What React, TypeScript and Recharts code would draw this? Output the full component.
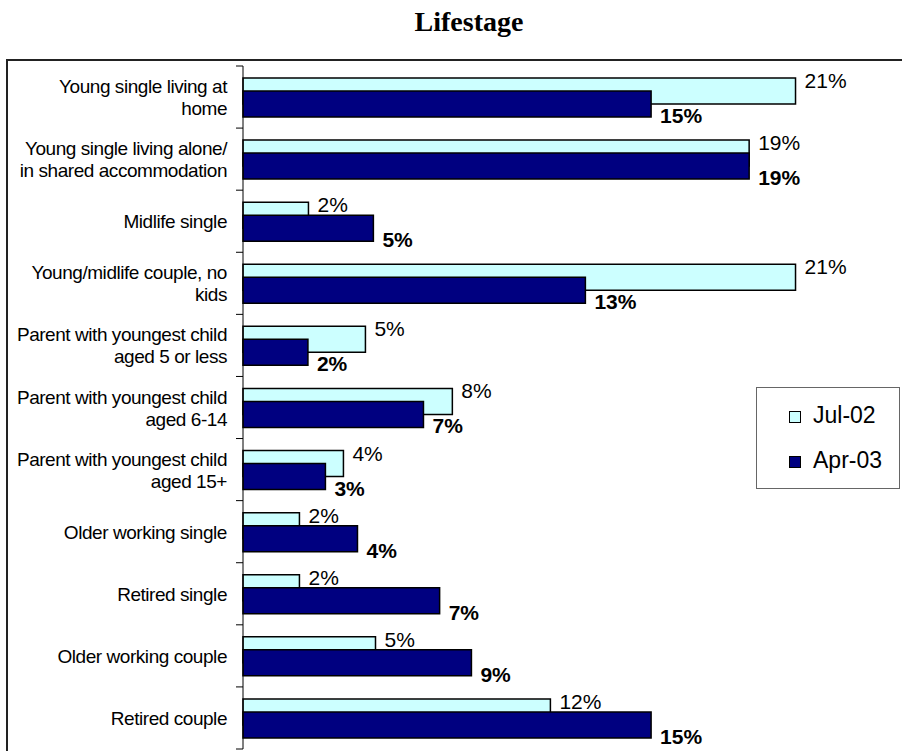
import React from 'react';
import { BarChart, Bar, XAxis, YAxis, LabelList } from 'recharts';

const categories = [
  'Young single living at\nhome',
  'Young single living alone/\nin shared accommodation',
  'Midlife single',
  'Young/midlife couple, no\nkids',
  'Parent with youngest child\naged 5 or less',
  'Parent with youngest child\naged 6-14',
  'Parent with youngest child\naged 15+',
  'Older working single',
  'Retired single',
  'Older working couple',
  'Retired couple',
];
const jul02 = [20.85, 19.1, 2.47, 20.85, 4.62, 7.9, 3.79, 2.13, 2.13, 5.0, 11.6];
const apr03 = [15.4, 19.1, 4.92, 12.92, 2.45, 6.81, 3.11, 4.32, 7.42, 8.62, 15.4];
const seriesNames = ['Jul-02', 'Apr-03'];
const seriesColors = ['#CCFFFF', '#000080'];

const data = categories.map((name, i) => ({ name, jul: jul02[i], apr: apr03[i] }));

const W = 902;
const H = 751;
const TOP = 66;
const BOTTOM = 2;
const AXIS_X = 243;
const BAND = (H - TOP - BOTTOM) / categories.length;
const FONT = '"Liberation Sans", Arial, sans-serif';

const CategoryTick = (props: any) => {
  const { y, payload, index } = props;
  const lines = String(payload.value).split('\n');
  const base = lines.length === 1 ? [y + 7] : [y - 4, y + 18];
  return (
    <g>
      <line x1={AXIS_X - 7} x2={AXIS_X} y1={y - BAND / 2} y2={y - BAND / 2} stroke="#000" />
      {index === categories.length - 1 && (
        <line x1={AXIS_X - 7} x2={AXIS_X} y1={y + BAND / 2} y2={y + BAND / 2} stroke="#000" />
      )}
      <text textAnchor="end" fontSize={19} letterSpacing={-0.45} fill="#000" fontFamily={FONT}>
        {lines.map((l, i) => (
          <tspan key={i} x={227} y={base[i]}>{l}</tspan>
        ))}
      </text>
    </g>
  );
};

const JulLabel = (p: any) => (
  <text x={p.x + p.width + 9} y={p.y + 10} fontSize={21} fill="#000" fontFamily={FONT}>
    {Math.round(p.value)}%
  </text>
);

const AprLabel = (p: any) => (
  <text x={p.x + p.width + 9} y={p.y + p.height + 6} fontSize={21} fontWeight="bold" fill="#000" fontFamily={FONT}>
    {Math.round(p.value)}%
  </text>
);

export default function App() {
  return (
    <div style={{ position: 'absolute', left: 0, top: 0, width: W, height: H, overflow: 'hidden', background: '#fff' }}>
      {/* outer frame, right and bottom edges fall outside the picture */}
      <div style={{ position: 'absolute', left: 6, top: 59, width: 1200, height: 1200, border: '2px solid #222' }} />
      <div style={{ position: 'absolute', left: 369, width: 200, top: 8, textAlign: 'center', fontFamily: '"Liberation Serif", "Times New Roman", serif', fontWeight: 'bold', fontSize: 28, lineHeight: '28px' }}>
        Lifestage
      </div>
      <div style={{ position: 'absolute', left: 0, top: 0 }}>
        <BarChart
          width={W}
          height={H}
          data={data}
          layout="vertical"
          margin={{ top: TOP, right: 23, bottom: BOTTOM, left: 0 }}
          barSize={26}
          barGap={-13}
        >
          <XAxis type="number" domain={[0, 24]} hide />
          <YAxis
            type="category"
            dataKey="name"
            width={AXIS_X}
            interval={0}
            axisLine={{ stroke: '#000' }}
            tickLine={false}
            tick={<CategoryTick />}
          />
          <Bar dataKey="jul" name={seriesNames[0]} fill={seriesColors[0]} stroke="#000" strokeWidth={1.5} isAnimationActive={false}>
            <LabelList dataKey="jul" content={<JulLabel />} />
          </Bar>
          <Bar dataKey="apr" name={seriesNames[1]} fill={seriesColors[1]} stroke="#000" strokeWidth={1.5} isAnimationActive={false}>
            <LabelList dataKey="apr" content={<AprLabel />} />
          </Bar>
        </BarChart>
      </div>
      {/* legend */}
      <div style={{ position: 'absolute', left: 756, top: 387, width: 142, height: 100, border: '1.5px solid #666', background: '#fff', fontFamily: FONT, fontSize: 23, color: '#000' }}>
        {seriesNames.map((n, i) => (
          <div key={n} style={{ position: 'absolute', left: 32, top: 14 + i * 45, display: 'flex', alignItems: 'center', lineHeight: '26px' }}>
            <span style={{ width: 10, height: 10, background: seriesColors[i], border: '1px solid #000', display: 'inline-block', marginRight: 12, marginTop: 3 }} />
            {n}
          </div>
        ))}
      </div>
    </div>
  );
}
